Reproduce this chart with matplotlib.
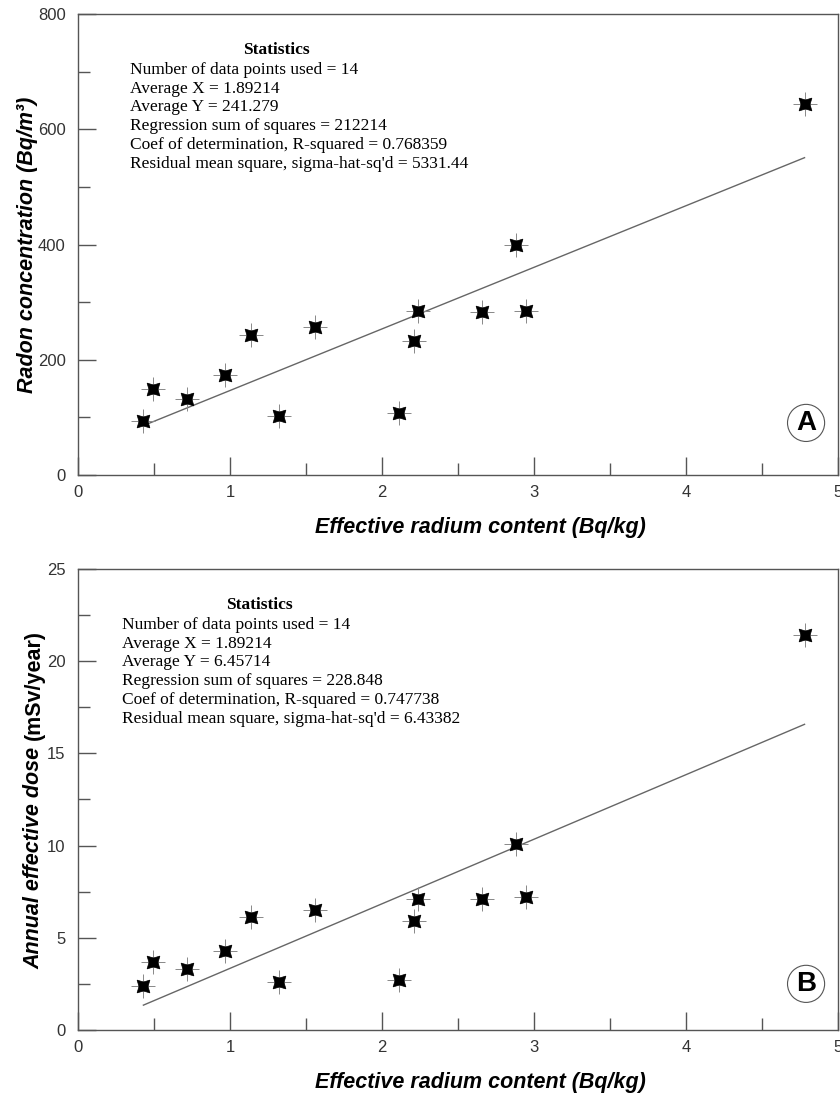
import numpy as np
import matplotlib
matplotlib.use("Agg")
import matplotlib.pyplot as plt
from matplotlib.ticker import MultipleLocator

# effective radium content (Bq/kg) for the 14 samples
radium = [0.43, 0.49, 0.72, 0.97, 1.14, 1.32, 1.56, 2.11, 2.21, 2.24, 2.66, 2.88, 2.95, 4.78]
# radon concentration (Bq/m3)
radon = [93, 149, 132, 173, 243, 102, 257, 108, 232, 285, 283, 399, 285, 644]
# annual effective dose (mSv/year)
dose = [2.4, 3.7, 3.3, 4.3, 6.1, 2.6, 6.5, 2.7, 5.9, 7.1, 7.1, 10.1, 7.2, 21.4]

stats_a = ["Number of data points used = 14",
           "Average X = 1.89214",
           "Average Y = 241.279",
           "Regression sum of squares = 212214",
           "Coef of determination, R-squared = 0.768359",
           "Residual mean square, sigma-hat-sq'd = 5331.44"]
stats_b = ["Number of data points used = 14",
           "Average X = 1.89214",
           "Average Y = 6.45714",
           "Regression sum of squares = 228.848",
           "Coef of determination, R-squared = 0.747738",
           "Residual mean square, sigma-hat-sq'd = 6.43382"]

plt.rcParams['font.family'] = ['Liberation Sans', 'DejaVu Sans']

AX_COL = '#555555'
TXT_COL = '#333333'
W, H = 840, 1095
LAB_FS = 15.5


def style_axes(ax, ymax, ymajor, yminor):
    ax.set_xlim(0, 5)
    ax.set_ylim(0, ymax)
    ax.xaxis.set_major_locator(MultipleLocator(1))
    ax.xaxis.set_minor_locator(MultipleLocator(0.5))
    ax.yaxis.set_major_locator(MultipleLocator(ymajor))
    ax.yaxis.set_minor_locator(MultipleLocator(yminor))
    ax.tick_params(which='both', direction='in', color=AX_COL, width=1,
                   labelcolor=TXT_COL, labelsize=12)
    ax.tick_params(which='major', length=13)
    ax.tick_params(which='minor', length=8.5)
    ax.tick_params(axis='x', pad=7)
    ax.tick_params(axis='y', pad=9)
    for s in ax.spines.values():
        s.set_color(AX_COL)
        s.set_linewidth(1)
    ax.set_xlabel("Effective radium content (Bq/kg)", fontsize=LAB_FS,
                  fontweight='bold', fontstyle='italic', color='black')
    ax.xaxis.set_label_coords(0.53, -0.092)


def scatter_fit(ax, x, y):
    x = np.asarray(x, float)
    y = np.asarray(y, float)
    k, n = np.polyfit(x, y, 1)
    xs = np.array([x.min(), x.max()])
    ax.plot(xs, k * xs + n, color='#666666', lw=1, zorder=2)
    ax.plot(x, y, ls='none', marker='+', ms=17, mew=0.7, color='#888888', zorder=3)
    ax.plot(x, y, ls='none', marker=(4, 1, 45), ms=13, mew=0.5,
            mfc='black', mec='black', zorder=4)


def stats_box(ax, x0, y0, cx, lines):
    # positions in pixels of the figure, converted to axes coords
    inv = ax.transAxes.inverted()
    def to_ax(px, py):
        fx, fy = ax.figure.transFigure.transform((px / W, 1 - py / H))
        return inv.transform((fx, fy))
    tx, ty = to_ax(cx, y0)
    ax.text(tx, ty, "Statistics", transform=ax.transAxes, ha='center', va='center',
            family='Liberation Serif', fontweight='bold', fontsize=12.5)
    for i, line in enumerate(lines):
        tx, ty = to_ax(x0, y0 + 1 + 18.8 * (i + 1))
        ax.text(tx, ty, line, transform=ax.transAxes, ha='left', va='center',
                family='Liberation Serif', fontsize=12.5)


fig = plt.figure(figsize=(8.4, 10.95), dpi=100)
ax1 = fig.add_axes([0.0929, 0.5662, 0.9047, 0.421])
ax2 = fig.add_axes([0.0929, 0.0594, 0.9047, 0.421])

# panel A
style_axes(ax1, 800, 200, 100)
scatter_fit(ax1, radium, radon)
ax1.set_ylabel("Radon concentration (Bq/m³)", fontsize=LAB_FS, fontweight='bold',
               fontstyle='italic')
ax1.yaxis.set_label_coords(-0.053, 0.5)
stats_box(ax1, 130, 50, 276, stats_a)
ax1.text(0.958, 0.113, "A", transform=ax1.transAxes, ha='center', va='center',
         fontsize=20, fontweight='bold',
         bbox=dict(boxstyle='circle,pad=0.2', fc='white', ec='#555555', lw=0.8))

# panel B
style_axes(ax2, 25, 5, 2.5)
scatter_fit(ax2, radium, dose)
yl = -0.058
t1 = ax2.text(yl, 0.5, "Annual effective dose ", transform=ax2.transAxes, rotation=90,
              rotation_mode='anchor', ha='right', va='center', fontsize=LAB_FS,
              fontweight='bold', fontstyle='italic')
t2 = ax2.text(yl, 0.5, "(mSv/year)", transform=ax2.transAxes, rotation=90,
              rotation_mode='anchor', ha='left', va='center', fontsize=LAB_FS,
              fontweight='bold')
# shift the split point so the two-part label is centred on the axis
fig.canvas.draw()
r = fig.canvas.get_renderer()
h1 = t1.get_window_extent(r).height
h2 = t2.get_window_extent(r).height
ax_h = ax2.get_window_extent(r).height
ysplit = 0.5 + (h1 - h2) / 2 / ax_h
t1.set_y(ysplit)
t2.set_y(ysplit)
stats_box(ax2, 122, 605, 259, stats_b)
ax2.text(0.958, 0.1, "B", transform=ax2.transAxes, ha='center', va='center',
         fontsize=20, fontweight='bold',
         bbox=dict(boxstyle='circle,pad=0.2', fc='white', ec='#555555', lw=0.8))

fig.savefig("out.png", dpi=100)
